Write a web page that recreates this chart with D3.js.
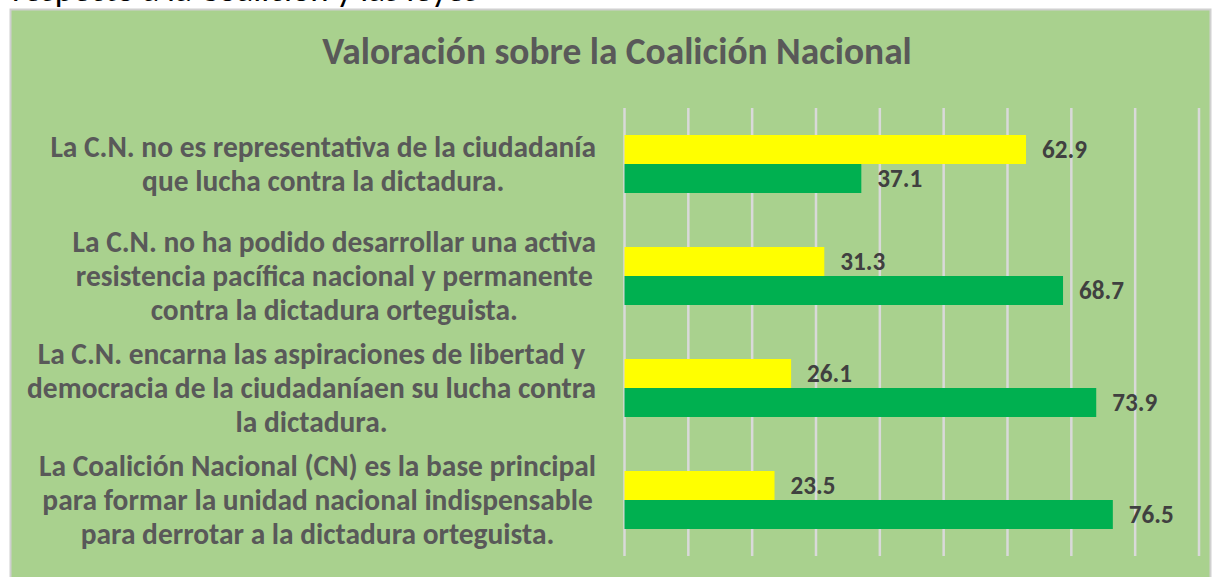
<!DOCTYPE html>
<html><head><meta charset="utf-8">
<script src="https://cdn.jsdelivr.net/npm/d3@7"></script>
<style>html,body{margin:0;padding:0;background:#fff;} svg{display:block;}</style>
</head><body>
<svg id="chart" width="1216" height="577"></svg>
<script>
const title = "Valoración sobre la Coalición Nacional";
const categories = [
  ["La C.N. no es representativa de la ciudadanía", "que lucha contra la dictadura."],
  ["La C.N. no ha podido desarrollar una activa", "resistencia pacífica nacional y permanente", "contra la dictadura orteguista."],
  ["La C.N. encarna las aspiraciones de libertad y", "democracia de la ciudadaníaen su lucha contra", "la dictadura."],
  ["La Coalición Nacional (CN) es la base principal", "para formar la unidad nacional indispensable", "para derrotar a la dictadura orteguista."]
];
const seriesNames = ["Serie 1", "Serie 2"];
const yellowValues = [62.9, 31.3, 26.1, 23.5];
const greenValues = [37.1, 68.7, 73.9, 76.5];
const xTicks = [0, 10, 20, 30, 40, 50, 60, 70, 80, 90];
const topText = "respecto a la Coalición y las leyes";

const svg = d3.select("#chart");
const FONT = "Calibri, Carlito, 'Open Sans', sans-serif";

function fit(sel, target) {
  const w = sel.node().getComputedTextLength();
  const fs = +sel.attr("font-size");
  sel.attr("font-size", fs * target / w);
}

// cut-off text at top (only its lower edge is visible, as in the reference)
const tt = svg.append("text").attr("x", 12).attr("y", 1).attr("font-family", FONT)
  .attr("font-size", 24).attr("fill", "#000").text(topText);
fit(tt, 466);

// chart area
svg.append("rect").attr("x", 10.5).attr("y", 9.5).attr("width", 1200).attr("height", 575)
  .attr("fill", "#A9D18E").attr("stroke", "#D0D0D0").attr("stroke-width", 2);

// title
const t = svg.append("text").attr("x", 617).attr("y", 64).attr("text-anchor", "middle")
  .attr("font-family", FONT).attr("font-weight", "bold").attr("font-size", 29)
  .attr("fill", "#595959").text(title);
fit(t, 590);

const x = d3.scaleLinear().domain([0, 90]).range([624.5, 1199]);
const y = d3.scaleBand().domain(d3.range(categories.length)).range([108, 556]).padding(0);
const inner = d3.scaleBand().domain(seriesNames).range([0, y.bandwidth()]).paddingOuter(0.931).paddingInner(0);

// gridlines
svg.append("g").selectAll("line").data(xTicks).join("line")
  .attr("x1", d => x(d)).attr("x2", d => x(d))
  .attr("y1", 108).attr("y2", 556)
  .attr("stroke", "#D9D9D9").attr("stroke-width", 2.5);

const data = categories.map((c, i) => [
  {s: seriesNames[0], v: yellowValues[i], i, color: "#FFFF00"},
  {s: seriesNames[1], v: greenValues[i], i, color: "#00B050"}
]).flat();

svg.append("g").selectAll("rect").data(data).join("rect")
  .attr("x", x(0)).attr("y", d => y(d.i) + inner(d.s))
  .attr("width", d => x(d.v) - x(0)).attr("height", inner.bandwidth())
  .attr("fill", d => d.color);

const vl = svg.append("g").selectAll("text").data(data).join("text")
  .attr("x", d => x(d.v) + 16).attr("y", d => y(d.i) + inner(d.s) + inner.bandwidth() / 2)
  .attr("dy", "0.35em").attr("font-family", FONT).attr("font-weight", "bold")
  .attr("font-size", 20).attr("fill", "#404040").text(d => d.v.toFixed(1));
(function(){
  const w = vl.node().getComputedTextLength();
  vl.attr("font-size", 20 * 45 / w);
})();

// category labels: lines centred within a block right-aligned at x=596
const labelG = svg.append("g");
const lh = 34;
const texts = categories.map((lines, i) => {
  const cy = y(i) + y.bandwidth() / 2;
  const txt = labelG.append("text").attr("text-anchor", "middle")
    .attr("font-family", FONT).attr("font-weight", "bold").attr("font-size", 21)
    .attr("fill", "#595959");
  lines.forEach((l, k) => {
    txt.append("tspan").attr("x", 323)
      .attr("y", cy + (k - (lines.length - 1) / 2) * lh).attr("dy", "0.35em").text(l);
  });
  return txt;
});
const first = labelG.select("text tspan").node();
const fs = 21 * 546 / first.getComputedTextLength();
labelG.selectAll("text").attr("font-size", fs);
texts.forEach(txt => {
  const spans = txt.selectAll("tspan").nodes();
  const maxW = d3.max(spans, s => s.getComputedTextLength());
  txt.selectAll("tspan").attr("x", 596 - maxW / 2);
});
</script>
</body></html>
